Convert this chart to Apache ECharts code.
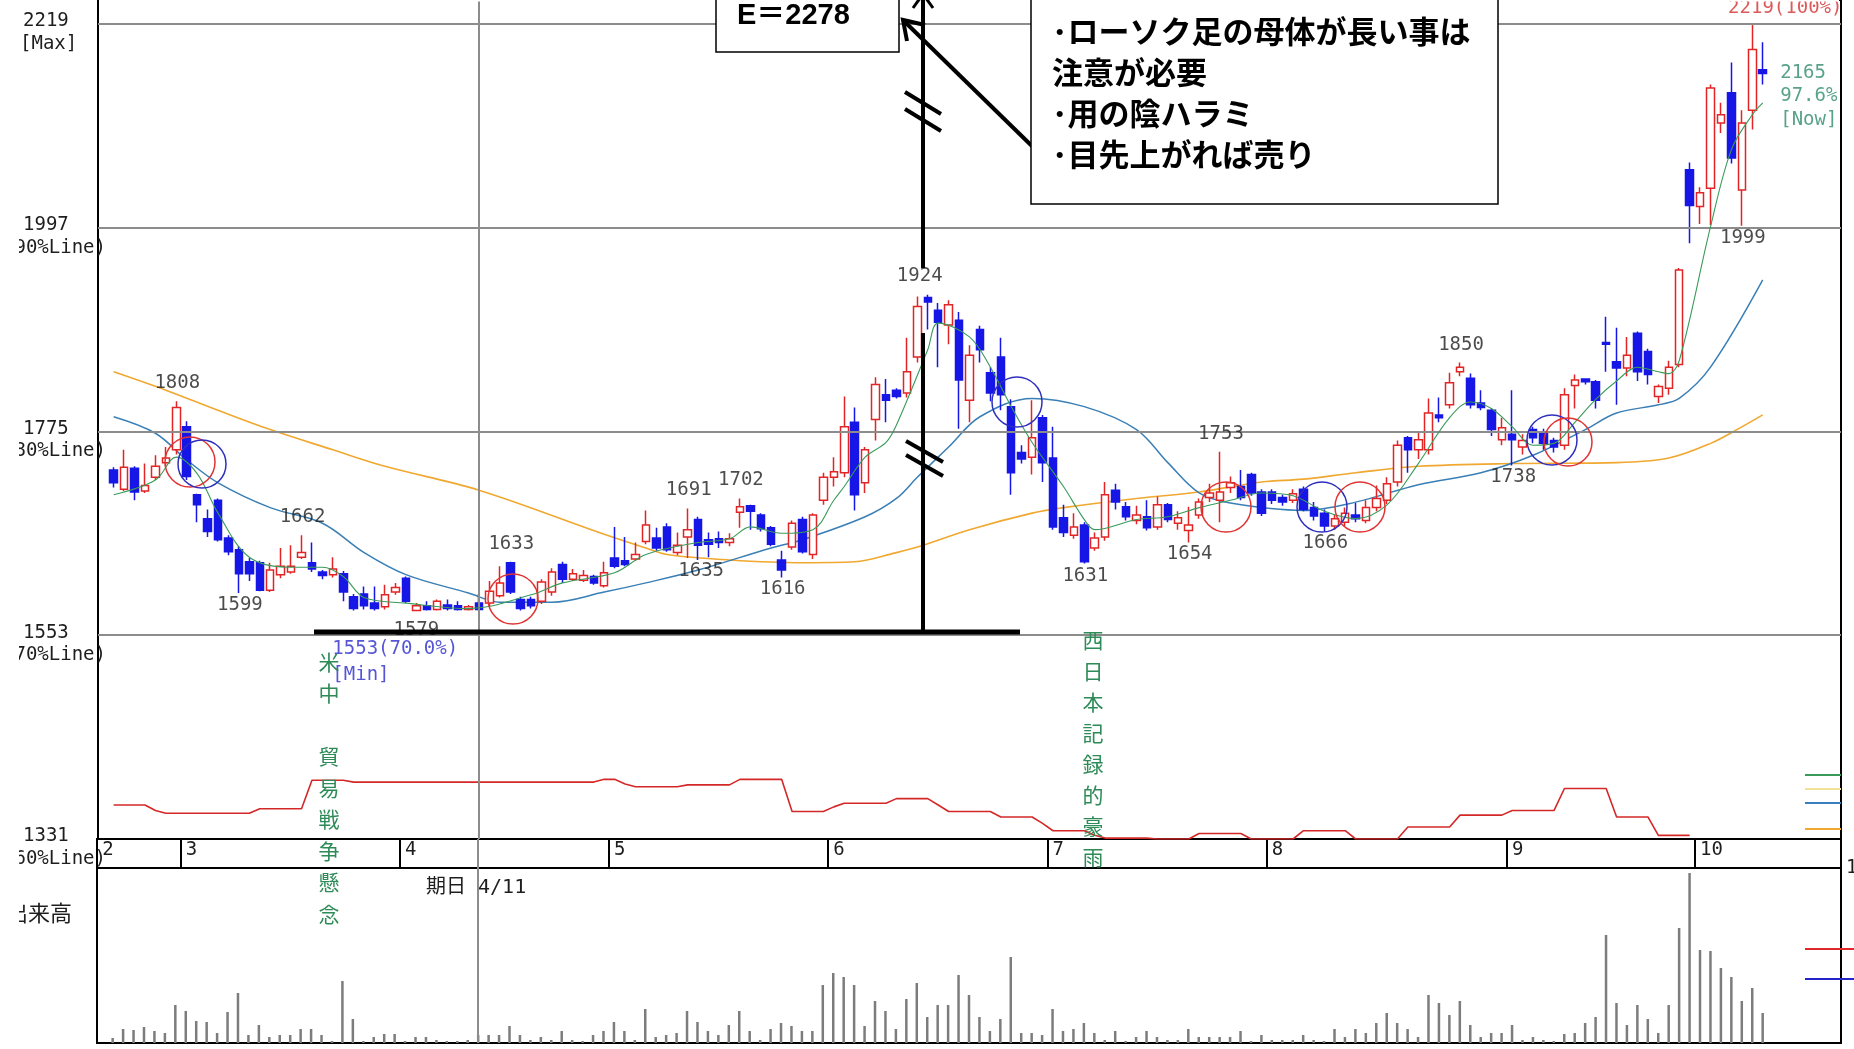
<!DOCTYPE html>
<html lang="ja">
<head>
<meta charset="utf-8">
<title>株価チャート</title>
<script src="https://cdn.jsdelivr.net/npm/echarts@6/dist/echarts.min.js"></script>
<style>
html,body{margin:0;padding:0;background:#fff;overflow:hidden}
#chart{width:1854px;height:1049px}
</style>
</head>
<body>
<div id="chart"></div>
<script>
// ---------- trading days (categories) ----------
const tradeDays = [
  [2, [19,20,21,22,23,26,27,28]],
  [3, [1,2,5,6,7,8,9,12,13,14,15,16,19,20,22,23,26,27,28,29,30]],
  [4, [2,3,4,5,6,9,10,11,12,13,16,17,18,19,20,23,24,25,26,27]],
  [5, [1,2,7,8,9,10,11,14,15,16,17,18,21,22,23,24,25,28,29,30,31]],
  [6, [1,4,5,6,7,8,11,12,13,14,15,18,19,20,21,22,25,26,27,28,29]],
  [7, [2,3,4,5,6,9,10,11,12,13,17,18,19,20,23,24,25,26,27,30,31]],
  [8, [1,2,3,6,7,8,9,10,13,14,15,16,17,20,21,22,23,24,27,28,29,30,31]],
  [9, [3,4,5,6,7,10,11,12,13,14,18,19,20,21,25,26,27,28]],
  [10,[1,2,3,4,5,9,10,11,12,15,16,17,18,19]]
];
const categories = [];
const monthStartIdx = [];
const monthNames = [];
tradeDays.forEach(([m, days]) => {
  monthStartIdx.push(categories.length);
  monthNames.push(String(m));
  days.forEach(d => categories.push(m + '/' + d));
});

// ---------- prices (index 0 = empty slot) ----------
const opens = [null,
  1733,1712,1735,1710,1725,1741,1755,
  1780,1706,1680,1700,1659,1646,1633,1632,1602,1619,1622,1638,1632,1622,1619,1620,1595,1598,1588,1584,1600,
  1615,1580,1585,1581,1586,1585,1581,1588,1588,1596,1632,1592,1592,1590,1600,1630,1614,1613,1617,1607,
  1637,1634,1636,1655,1659,1671,1643,1660,1679,1657,1658,1654,1687,1694,1684,1670,1635,1649,1679,1641,1700,
  1725,1730,1785,1719,1788,1815,1820,1817,1856,1921,1907,1891,1896,1809,1886,1839,1856,1802,1752,1747,1790,
  1746,1681,1662,1673,1648,1660,1711,1693,1678,1682,1671,1695,1675,1667,1684,1703,1700,1714,1715,1728,1709,
  1709,1703,1700,1712,1692,1686,1672,1676,1684,1678,1692,1700,1720,1768,1755,1755,1793,1804,1840,1833,1806,1798,1766,
  1772,1758,1777,1774,1765,1760,1825,1832,1829,1872,1851,1844,1882,1862,1813,1822,1848,2060,
  2020,2040,2111,2144,2038,2125,2169];
const closes = [null,
  1719,1736,1709,1716,1737,1746,1801,
  1726,1695,1666,1657,1644,1620,1620,1602,1624,1628,1628,1643,1625,1618,1625,1600,1582,1585,1582,1597,1605,
  1590,1585,1581,1590,1582,1581,1584,1581,1601,1610,1600,1582,1585,1611,1622,1614,1620,1618,1610,1621,
  1628,1630,1641,1673,1648,1646,1651,1668,1651,1652,1654,1658,1693,1688,1669,1652,1624,1675,1644,1684,1725,
  1731,1780,1706,1755,1826,1809,1813,1840,1911,1916,1894,1913,1831,1858,1864,1817,1815,1730,1745,1768,1741,
  1671,1665,1671,1633,1659,1706,1698,1682,1684,1670,1695,1679,1681,1673,1698,1708,1709,1719,1703,1708,1686,
  1700,1698,1707,1690,1683,1672,1680,1686,1680,1692,1702,1718,1760,1755,1766,1795,1790,1828,1845,1804,1801,1777,1779,
  1766,1765,1768,1762,1758,1815,1831,1829,1809,1870,1844,1858,1840,1837,1824,1845,1951,2021,
  2035,2149,2120,2073,2111,2191,2165];
const highs = [null,
  1736,1755,1737,1740,1749,1758,1808,
  1786,1707,1690,1702,1662,1650,1637,1634,1632,1648,1651,1662,1654,1624,1638,1623,1598,1606,1606,1608,1610,
  1617,1588,1590,1592,1592,1590,1586,1598,1612,1628,1633,1595,1595,1614,1626,1633,1625,1624,1619,1633,
  1671,1660,1654,1689,1670,1675,1665,1691,1682,1665,1666,1664,1702,1695,1686,1672,1645,1678,1682,1686,1730,
  1747,1813,1801,1758,1834,1832,1822,1877,1922,1924,1915,1918,1905,1869,1890,1845,1877,1810,1760,1809,1793,
  1780,1695,1686,1676,1665,1720,1718,1698,1694,1700,1704,1697,1688,1693,1702,1718,1753,1726,1733,1730,1712,
  1712,1706,1712,1715,1698,1690,1684,1692,1697,1700,1716,1725,1765,1770,1775,1811,1812,1839,1850,1838,1820,1800,1790,
  1820,1772,1780,1778,1768,1822,1837,1833,1831,1900,1888,1878,1884,1865,1826,1852,1953,2068,
  2041,2153,2133,2177,2125,2219,2199];
const lows = [null,
  1714,1710,1700,1708,1722,1737,1750,
  1722,1676,1660,1655,1640,1599,1612,1601,1600,1615,1620,1636,1622,1614,1616,1590,1580,1581,1580,1581,1597,
  1588,1579,1580,1580,1580,1580,1580,1580,1584,1594,1598,1580,1582,1587,1596,1610,1612,1611,1608,1605,
  1626,1628,1634,1652,1645,1644,1640,1637,1635,1638,1648,1650,1670,1668,1666,1650,1616,1646,1642,1636,1695,
  1715,1725,1689,1708,1765,1785,1811,1812,1850,1886,1845,1870,1778,1785,1850,1808,1798,1706,1740,1728,1720,
  1668,1660,1658,1631,1645,1656,1690,1678,1674,1667,1668,1676,1668,1654,1680,1698,1676,1708,1700,1705,1683,
  1696,1694,1697,1688,1678,1666,1668,1672,1676,1675,1688,1696,1715,1730,1745,1750,1785,1800,1835,1800,1798,1770,1760,
  1738,1750,1762,1755,1752,1755,1800,1826,1800,1840,1804,1835,1830,1826,1806,1815,1845,1980,
  2001,2000,2100,2067,1999,2104,2153];

// ---------- volume (relative units) ----------
const volumes = [null,
  5,14,13,16,12,10,38,
  32,22,21,10,31,50,8,18,6,8,8,14,14,8,2,62,24,2,6,9,9,
  2,6,6,3,2,2,3,8,8,8,17,8,3,6,3,12,3,2,8,12,
  21,12,3,34,6,8,10,32,21,12,8,18,32,12,3,14,20,17,12,12,58,
  70,66,58,17,42,32,14,44,60,26,38,38,68,48,26,12,24,86,10,10,8,
  34,12,14,20,10,3,12,2,6,12,6,3,3,14,6,6,6,6,12,2,8,
  3,3,3,8,3,2,14,6,14,10,20,30,20,14,6,48,40,28,42,18,6,10,10,
  18,3,6,3,2,9,10,20,26,108,40,18,38,24,10,38,115,170,
  93,92,75,66,42,55,30];

// ---------- lower indicator line (price-axis units) ----------
const indicator = [null,
  1368,1368,1368,1368,1362,1359,1359,1359,1359,1359,1359,1359,1359,1359,
  1364,1364,1364,1364,1364,
  1395,1395,1395,1395,
  1393,1393,1393,1393,1393,1393,1393,1393,1393,1393,1393,1393,1393,1393,1393,1393,1393,1393,1393,1393,1393,1393,1393,1393,
  1396,1396,1391,1388,1388,1388,1388,1388,
  1390,1390,1390,1390,1390,
  1396,1396,1396,1396,1396,
  1361,1361,1361,1361,1366,
  1370,1370,1370,1370,1370,
  1375,1375,1375,1375,1368,
  1361,1361,1361,1361,1361,
  1355,1355,1355,1355,1348,
  1340,1340,1340,1340,1335,
  1332,1332,1332,1332,1332,
  1331,1331,1331,1331,
  1337,1337,1337,1337,1337,
  1331,1331,1331,1331,1331,
  1340,1340,1340,1340,1340,
  1331,1331,1331,1331,1331,
  1344,1344,1344,1344,1344,
  1357,1357,1357,1357,1357,
  1362,1362,1362,1362,1362,
  1386,1386,1386,1386,1386,
  1355,1355,1355,1355,
  1335,1335,1335,1335];

// ---------- moving averages: [index, value] ----------
const maShort = [[1,1706],[5,1722],[7,1747],[9,1729],[11,1686],[14,1638],[18,1627],[21,1627],[23,1617],[25,1594],[29,1588],[35,1582],[41,1597],[44,1610],[49,1621],[52,1641],[57,1654],[60,1658],[62,1671],[65,1664],[68,1668],[70,1700],[71,1715],[73,1747],[75,1763],[76,1782],[79,1864],[80,1893],[83,1878],[85,1845],[87,1802],[89,1763],[92,1715],[94,1679],[95,1668],[99,1679],[102,1682],[105,1692],[108,1700],[111,1708],[114,1705],[117,1688],[120,1680],[123,1695],[126,1740],[129,1790],[131,1807],[133,1800],[135,1780],[137,1760],[139,1762],[141,1785],[143,1810],[145,1830],[147,1845],[149,1840],[150,1838],[151,1852],[154,1998],[156,2082],[158,2120],[159,2133]];
const maMid = [[1,1791],[5,1773],[8,1744],[11,1719],[16,1692],[21,1675],[25,1643],[29,1619],[35,1599],[38,1589],[43,1589],[48,1600],[52,1610],[57,1624],[64,1648],[67,1657],[73,1682],[76,1702],[78,1725],[81,1758],[84,1791],[89,1811],[94,1802],[99,1777],[102,1741],[105,1708],[108,1697],[115,1689],[120,1698],[126,1717],[132,1730],[137,1749],[142,1777],[145,1795],[149,1804],[151,1811],[154,1845],[159,1940]];
const maLong = [[1,1840],[6,1820],[11,1798],[16,1777],[22,1755],[27,1737],[36,1711],[48,1663],[52,1648],[54,1641],[60,1635],[67,1632],[72,1633],[76,1643],[78,1649],[83,1668],[89,1686],[92,1692],[99,1702],[105,1709],[111,1720],[115,1723],[120,1730],[126,1737],[135,1740],[145,1741],[150,1746],[154,1762],[157,1780],[159,1793]];

// ---------- peak / trough labels ----------
const peakIdx = [7, 19, 39, 56, 61, 79, 107, 130];
const peakVal = [1808, 1662, 1633, 1691, 1702, 1924, 1753, 1850];
const troughIdx = [13, 30, 57, 65, 94, 104, 117, 135, 157];
const troughVal = [1599, 1579, 1635, 1616, 1631, 1654, 1666, 1738, 1999];

// ---------- axis tick labels ----------
const yTickVals = [2219, 1997, 1775, 1553, 1331];
const yTickMain = ['2219', '1997', '1775', '1553', '1331'];
const yTickSub = ['[Max]', '(90%Line)', '(80%Line)', '(70%Line)', '(60%Line)'];
const gridLevels = [2219, 1997, 1775, 1553];

// ---------- build ----------
const MONO = 'DejaVu Sans Mono';
const candleData = categories.map((c, i) =>
  (opens[i] == null ? '-' : [opens[i], closes[i], lows[i], highs[i]]));
const volData = categories.map((c, i) => (volumes[i] == null ? '-' : volumes[i]));
const indData = categories.map((c, i) => (indicator[i] == null ? '-' : indicator[i]));

const hiData = peakIdx.map((ix, k) => ({
  value: [ix, peakVal[k]],
  label: { formatter: String(peakVal[k]), offset: ix === 79 ? [-8, -19] : [1, -18] }
}));
const loData = troughIdx.map((ix, k) => ({
  value: [ix, troughVal[k]],
  label: { formatter: String(troughVal[k]), offset: ix === 30 ? [0, 19] : (ix === 57 ? [3, 11] : [1, 12]) }
}));

const labelBase = { show: true, position: 'inside', fontFamily: MONO, fontSize: 19, color: '#1e1e1e' };
const vline = { symbol: ['none', 'none'], silent: true, label: { show: false },
  lineStyle: { color: '#8c8c8c', width: 2, type: 'solid' }, data: [{ xAxis: '4/11' }] };

const annotations = [];
const L = (x1, y1, x2, y2, w) => annotations.push({ type: 'line', z: 60, shape: { x1, y1, x2, y2 }, style: { stroke: '#000', lineWidth: w } });
// hide the top edge of the price frame (the panel continues above the picture)
annotations.push({ type: 'rect', z: 59, shape: { x: 99, y: 0, width: 1740, height: 1.6 }, style: { fill: '#fff' } });
L(314, 632, 1020, 632, 5);
L(923, -10, 923, 268, 4);
L(923, 333, 923, 634, 4);
annotations.push({ type: 'polyline', z: 60, shape: { points: [[913, 8], [923, -6], [933, 8]] }, style: { stroke: '#000', lineWidth: 3, fill: 'none' } });
L(905, 92, 941, 114, 4);
L(905, 109, 941, 131, 4);
L(906, 441, 943, 462, 4);
L(906, 455, 943, 476, 4);
L(1036, 150, 905, 22, 4);
annotations.push({ type: 'polyline', z: 60, shape: { points: [[907, 41], [903, 20], [925, 25]] }, style: { stroke: '#000', lineWidth: 4, fill: 'none' } });
// boxes
annotations.push({ type: 'rect', z: 61, shape: { x: 716, y: -3, width: 183, height: 55 }, style: { fill: '#fff', stroke: '#000', lineWidth: 1.5 } });
annotations.push({ type: 'text', z: 62, style: { x: 737, y: 16, text: 'E＝2278', font: 'bold 29px "Liberation Sans", "Noto Sans CJK JP"', fill: '#000', align: 'left', verticalAlign: 'middle' } });
annotations.push({ type: 'rect', z: 61, shape: { x: 1031, y: -3, width: 467, height: 207 }, style: { fill: '#fff', stroke: '#000', lineWidth: 1.5 } });
const noteLines = ['･ローソク足の母体が長い事は', '注意が必要', '･用の陰ハラミ', '･目先上がれば売り'];
noteLines.forEach((t, k) => annotations.push({ type: 'text', z: 62, style: { x: 1052, y: 31 + k * 41, text: t, font: 'bold 31px "Noto Sans CJK JP"', fill: '#000', align: 'left', verticalAlign: 'middle' } }));
// circles
const circles = [
  [190, 462, 25, '#e03434'], [202, 464, 24, '#2f2fbf'],
  [513, 599, 25, '#e03434'],
  [1017, 402, 25, '#2f2fbf'],
  [1226, 507, 25, '#e03434'],
  [1322, 507, 25, '#2f2fbf'], [1360, 507, 25, '#e03434'],
  [1552, 440, 25, '#2f2fbf'], [1568, 442, 24, '#e03434']
];
circles.forEach(([cx, cy, r, c]) => annotations.push({ type: 'circle', z: 55, shape: { cx, cy, r }, style: { fill: 'none', stroke: c, lineWidth: 1.5 } }));
// event notes (vertical)
annotations.push({ type: 'text', z: 58, style: { x: 329, y: 646, text: '米\n中\n\n貿\n易\n戦\n争\n懸\n念', font: '21px "Noto Sans CJK JP"', fill: '#2e8b57', align: 'center', verticalAlign: 'top', lineHeight: 31.5 } });
annotations.push({ type: 'text', z: 58, style: { x: 1093, y: 625, text: '西\n日\n本\n記\n録\n的\n豪\n雨', font: '21px "Noto Sans CJK JP"', fill: '#2e8b57', align: 'center', verticalAlign: 'top', lineHeight: 31 } });
// misc texts
annotations.push({ type: 'text', z: 58, style: { x: 426, y: 888, text: '期日 4/11', font: '20px "DejaVu Sans Mono", "Noto Sans CJK JP"', fill: '#1e1e1e', align: 'left', verticalAlign: 'middle' } });
annotations.push({ type: 'text', z: 58, style: { x: 6, y: 913, text: '出来高', font: '22px "Noto Sans CJK JP"', fill: '#1e1e1e', align: 'left', verticalAlign: 'middle' } });
annotations.push({ type: 'text', z: 58, style: { x: 1846, y: 868, text: '1', font: '19px "DejaVu Sans Mono"', fill: '#1e1e1e', align: 'left', verticalAlign: 'middle' } });
// legend ticks on right edge
[[775, '#3a9a5a'], [789, '#f3e39a'], [803, '#3a7fc0'], [829, '#f0a830']].forEach(([y, c]) =>
  annotations.push({ type: 'line', z: 58, shape: { x1: 1805, y1: y, x2: 1841, y2: y }, style: { stroke: c, lineWidth: 2 } }));
[[949, '#e02828'], [979, '#2424c8']].forEach(([y, c]) =>
  annotations.push({ type: 'line', z: 58, shape: { x1: 1805, y1: y, x2: 1854, y2: y }, style: { stroke: c, lineWidth: 2 } }));
// left clipping of axis texts
annotations.push({ type: 'rect', z: 100, shape: { x: 0, y: 0, width: 19, height: 1049 }, style: { fill: '#fff' } });

const option = {
  animation: false,
  backgroundColor: '#fff',
  grid: [
    { left: 97, right: 13, top: 0, height: 839, show: true, borderColor: '#000', borderWidth: 2, backgroundColor: '#fff' },
    { left: 97, right: 13, top: 839, height: 29, show: true, borderColor: '#000', borderWidth: 2 },
    { left: 97, right: 13, top: 868, height: 175, show: true, borderColor: '#000', borderWidth: 2 }
  ],
  xAxis: [
    { type: 'category', gridIndex: 0, data: categories, axisLine: { show: false }, axisTick: { show: false }, axisLabel: { show: false }, splitLine: { show: false } },
    { type: 'category', gridIndex: 1, data: categories, position: 'top', axisLine: { show: false }, axisTick: { show: false },
      axisLabel: { show: true, inside: true, margin: 2, align: 'left', verticalAlign: 'top', fontFamily: MONO, fontSize: 19, color: '#1e1e1e',
        interval: (i) => monthStartIdx.indexOf(i) >= 0,
        formatter: (v, i) => { const k = monthStartIdx.indexOf(i); return k >= 0 ? monthNames[k] : ''; } },
      splitLine: { show: true, interval: (i) => monthStartIdx.indexOf(i) >= 0, lineStyle: { color: '#000', width: 2 } } },
    { type: 'category', gridIndex: 2, data: categories, axisLine: { show: false }, axisTick: { show: false }, axisLabel: { show: false }, splitLine: { show: false } }
  ],
  yAxis: [
    { type: 'value', gridIndex: 0, min: 1331, max: 2245, axisLine: { show: false }, axisTick: { show: false }, splitLine: { show: false },
      axisLabel: { show: true, customValues: yTickVals, align: 'left', margin: 95, padding: [18, 0, 0, 0],
        formatter: (v) => { const k = yTickVals.indexOf(Math.round(v)); if (k < 0) return ''; return '{n|' + yTickMain[k] + '}\n{' + (k === 0 ? 'm' : 's') + '|' + yTickSub[k] + '}'; },
        rich: {
          n: { fontFamily: MONO, fontSize: 19, color: '#1e1e1e', lineHeight: 22, padding: [0, 0, 0, 20] },
          m: { fontFamily: MONO, fontSize: 19, color: '#1e1e1e', lineHeight: 23, padding: [0, 0, 0, 17] },
          s: { fontFamily: MONO, fontSize: 19, color: '#1e1e1e', lineHeight: 23 }
        } } },
    { type: 'value', gridIndex: 1, min: 0, max: 1, show: false },
    { type: 'value', gridIndex: 2, min: 0, max: 175, show: false }
  ],
  series: [
    { name: 'indicator', type: 'line', xAxisIndex: 0, yAxisIndex: 0, data: indData, showSymbol: false, z: 2,
      lineStyle: { color: '#d42828', width: 1.6 },
      markLine: { symbol: ['none', 'none'], silent: true, label: { show: false },
        lineStyle: { color: '#8c8c8c', width: 2, type: 'solid' },
        data: gridLevels.map(v => ({ yAxis: v })).concat([{ xAxis: '4/11' }]) } },
    { name: 'MA75', type: 'line', xAxisIndex: 0, yAxisIndex: 0, data: maLong, smooth: 0.35, showSymbol: false, z: 3, lineStyle: { color: '#f0a830', width: 1.6 } },
    { name: 'MA25', type: 'line', xAxisIndex: 0, yAxisIndex: 0, data: maMid, smooth: 0.35, showSymbol: false, z: 3, lineStyle: { color: '#3a7fb5', width: 1.5 } },
    { name: 'price', type: 'candlestick', xAxisIndex: 0, yAxisIndex: 0, data: candleData, barWidth: 8, z: 4,
      itemStyle: { color: '#ffffff', color0: '#1616e6', borderColor: '#e22424', borderColor0: '#1616e6', borderWidth: 1.5 } },
    { name: 'MA5', type: 'line', xAxisIndex: 0, yAxisIndex: 0, data: maShort, smooth: 0.35, showSymbol: false, z: 5, lineStyle: { color: '#3a9a5a', width: 1.1 } },
    { name: 'highs', type: 'scatter', xAxisIndex: 0, yAxisIndex: 0, data: hiData, symbolSize: 1, itemStyle: { color: 'transparent' }, z: 6, label: labelBase },
    { name: 'lows', type: 'scatter', xAxisIndex: 0, yAxisIndex: 0, data: loData, symbolSize: 1, itemStyle: { color: 'transparent' }, z: 6, label: labelBase },
    { name: 'marks', type: 'scatter', xAxisIndex: 0, yAxisIndex: 0, symbolSize: 1, itemStyle: { color: 'transparent' }, z: 6,
      data: [
        { value: [158, 2219], label: Object.assign({}, labelBase, { formatter: '2219(100%)', color: '#d43030', offset: [33, -16] }) },
        { value: [159, 2165], label: Object.assign({}, labelBase, { formatter: '2165\n97.6%\n[Now]', color: '#2e8b6a', position: [18, -12], align: 'left', verticalAlign: 'top', lineHeight: 23.5 }) },
        { value: [22, 1553], label: Object.assign({}, labelBase, { formatter: '1553(70.0%)\n[Min]', color: '#2a2acc', position: [0, 1], align: 'left', verticalAlign: 'top', lineHeight: 26 }) }
      ] },
    { name: 'strip', type: 'line', xAxisIndex: 1, yAxisIndex: 1, data: [], markLine: vline },
    { name: 'volume', type: 'bar', xAxisIndex: 2, yAxisIndex: 2, data: volData, barWidth: 2.5, itemStyle: { color: '#7c7c7c' }, markLine: vline }
  ],
  graphic: annotations
};

const chart = echarts.init(document.getElementById('chart'));
chart.setOption(option);
</script>
</body>
</html>
